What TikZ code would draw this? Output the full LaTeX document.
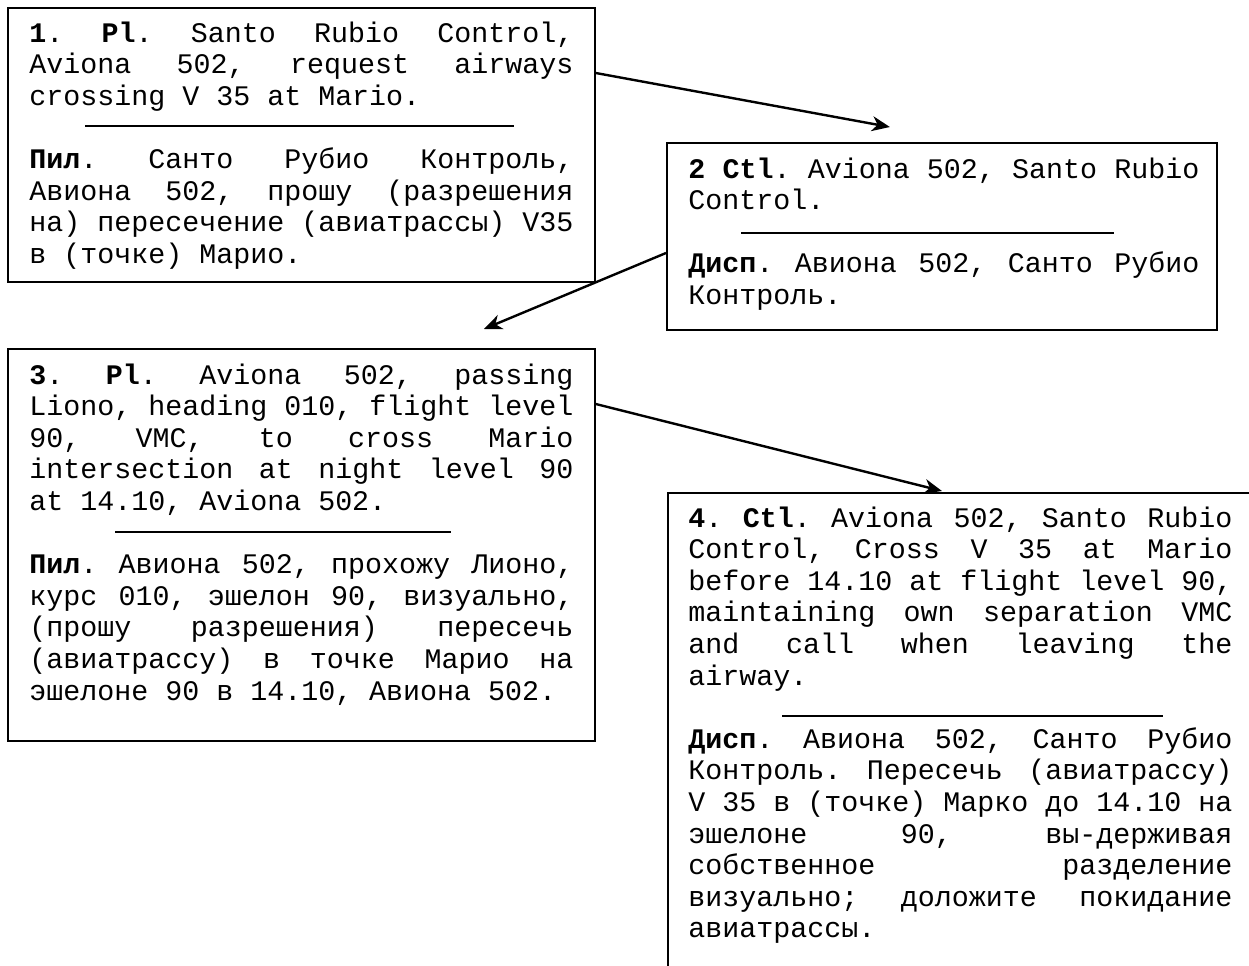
\documentclass[tikz,border=0pt]{standalone}
\usepackage{fontspec}
\usetikzlibrary{arrows.meta}
\newfontfamily\cour{Liberation Mono}

% a block of manually broken lines; spaces stretch to justify full lines
\newcommand\msg[2]{\vtop{\hsize=#1\relax\frenchspacing
  \spaceskip=\fontdimen2\font plus 1fil\relax
  \baselineskip=15.8pt\lineskiplimit=-100pt\lineskip=0pt #2}}
\newcommand\jl[1]{\hbox to\hsize{#1}}   % justified line
\newcommand\el[1]{\hbox{#1}}            % last line of a paragraph
\newcommand\gap{\hbox{}}                % empty line between the two versions

\tikzset{
  panel/.style={draw, line width=0.9pt, inner sep=0pt, anchor=north west, fill=white},
  txt/.style={inner sep=0pt, anchor=base west, font=\cour\fontsize{14.16pt}{15.8pt}\selectfont},
  sep/.style={line width=0.9pt},
  arr/.style={line width=1.2pt, -{Stealth[length=9pt, width=7.5pt, inset=2.8pt]}}
}

\begin{document}
\begin{tikzpicture}[x=0.5pt, y=-0.5pt]
\useasboundingbox (0,0) rectangle (1249,965);
\fill[white] (0,0) rectangle (1249,965);
\clip (0,0) rectangle (1249,965);

% message boxes
\node[panel, minimum width=293.5pt, minimum height=137pt] (b1) at (7,7) {};
\node[panel, minimum width=275pt, minimum height=93.5pt] (b2) at (666,142) {};
\node[panel, minimum width=293.5pt, minimum height=196pt] (b3) at (7,348) {};
\node[panel, minimum width=316.5pt, minimum height=254pt] (b4) at (667,492) {};

% message texts
\node[txt] (t1) at (29,42) {\msg{272pt}{%
  \jl{\textbf{1}. \textbf{Pl}. Santo Rubio Control,}
  \jl{Aviona 502, request airways}
  \el{crossing V 35 at Mario.}
  \gap
  \jl{\textbf{Пил}. Санто Рубио Контроль,}
  \jl{Авиона 502, прошу (разрешения}
  \jl{на) пересечение (авиатрассы) V35}
  \el{в (точке) Марио.}}};

\node[txt] (t2) at (688,178) {\msg{255.5pt}{%
  \jl{\textbf{2 Ctl}. Aviona 502, Santo Rubio}
  \el{Control.}
  \gap
  \jl{\textbf{Дисп}. Авиона 502, Санто Рубио}
  \el{Контроль.}}};

\node[txt] (t3) at (29,384) {\msg{272pt}{%
  \jl{\textbf{3}. \textbf{Pl}. Aviona 502, passing}
  \jl{Liono, heading 010, flight level}
  \jl{90, VMC, to cross Mario}
  \jl{intersection at night level 90}
  \el{at 14.10, Aviona 502.}
  \gap
  \jl{\textbf{Пил}. Авиона 502, прохожу Лионо,}
  \jl{курс 010, эшелон 90, визуально,}
  \jl{(прошу разрешения) пересечь}
  \jl{(авиатрассу) в точке Марио на}
  \el{эшелоне 90 в 14.10, Авиона 502.}}};

\node[txt] (t4) at (688,527) {\msg{272pt}{%
  \jl{\textbf{4}. \textbf{Ctl}. Aviona 502, Santo Rubio}
  \jl{Control, Cross V 35 at Mario}
  \jl{before 14.10 at flight level 90,}
  \jl{maintaining own separation VMC}
  \jl{and call when leaving the}
  \el{airway.}
  \gap
  \jl{\textbf{Дисп}. Авиона 502, Санто Рубио}
  \jl{Контроль. Пересечь (авиатрассу)}
  \jl{V 35 в (точке) Марко до 14.10 на}
  \jl{эшелоне 90, вы-держивая}
  \jl{собственное разделение}
  \jl{визуально; доложите покидание}
  \el{авиатрассы.}}};

% separators between the English and Russian versions
\draw[sep] (85,126) -- (514,126);
\draw[sep] (741,233) -- (1114,233);
\draw[sep] (115,532) -- (451,532);
\draw[sep] (782,716) -- (1163,716);

% message sequence
\draw[arr] ([yshift=-33pt]b1.north east) -- ([xshift=-26pt, yshift=7.5pt]b2.north);
\draw[arr] ([yshift=-55.5pt]b2.north west) -- ([xshift=91.25pt, yshift=9.5pt]b3.north);
\draw[arr] ([yshift=-28pt]b3.north east) -- ([xshift=137.5pt, yshift=0.5pt]b4.north west);
\end{tikzpicture}
\end{document}
